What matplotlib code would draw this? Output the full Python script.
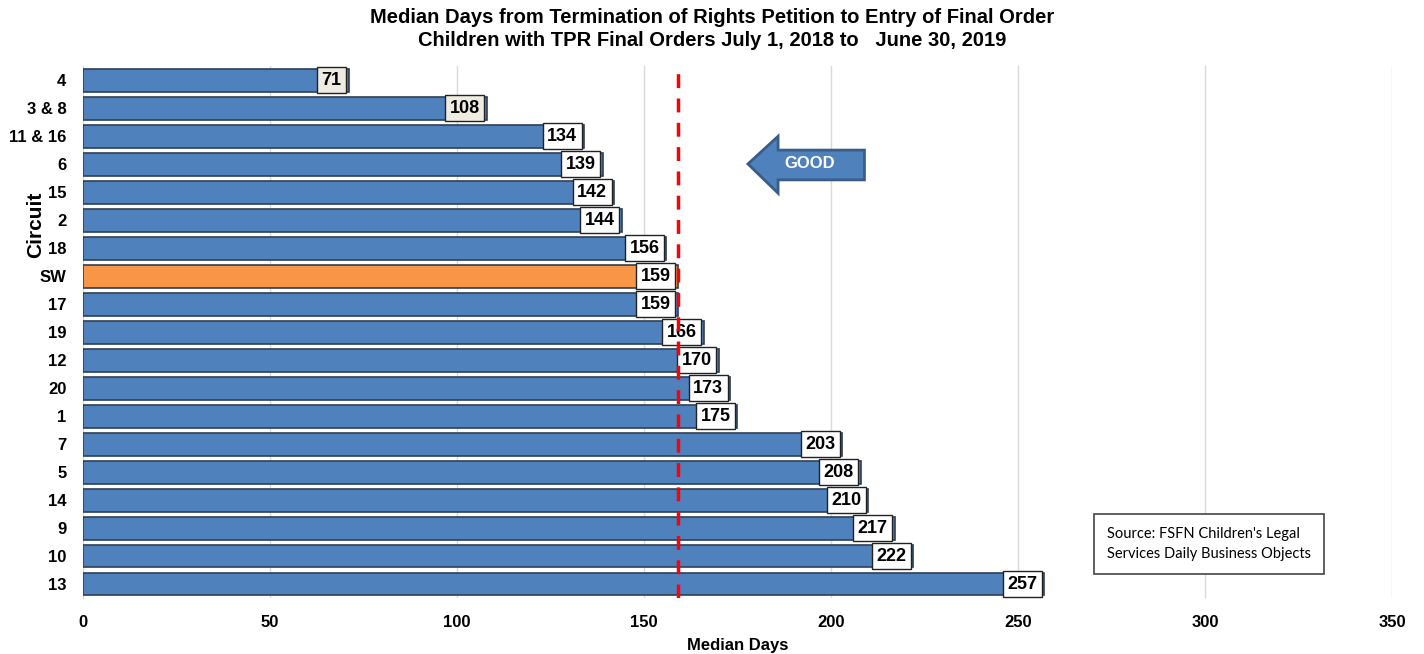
import matplotlib
matplotlib.use("Agg")
import matplotlib.pyplot as plt
from matplotlib.patches import Polygon

circuits = ["4", "3 & 8", "11 & 16", "6", "15", "2", "18", "SW", "17", "19",
            "12", "20", "1", "7", "5", "14", "9", "10", "13"]
median_days = [71, 108, 134, 139, 142, 144, 156, 159, 159, 166,
               170, 173, 175, 203, 208, 210, 217, 222, 257]
statewide = 159
x_ticks = [0, 50, 100, 150, 200, 250, 300, 350]

BLUE = "#4F81BD"
ORANGE = "#F79646"
EDGE = "#2F3F55"

plt.rcParams["font.family"] = ["Liberation Sans", "DejaVu Sans"]

fig = plt.figure(figsize=(14.24, 6.54), dpi=100)
ax = fig.add_axes([0.0583, 0.0856, 0.9192, 0.8134])

ypos = list(range(len(circuits)))
colors = [ORANGE if c == "SW" else BLUE for c in circuits]
ax.barh(ypos, median_days, height=0.82, color=colors, edgecolor=EDGE,
        linewidth=1.2, zorder=3)

for i, v in enumerate(median_days):
    face = "#EEECE1" if i < 2 else "white"
    ax.annotate(str(v), xy=(v, i), xytext=(-5, 0), textcoords="offset points",
                ha="right", va="center", fontsize=13, fontweight="bold",
                zorder=5,
                bbox=dict(boxstyle="square,pad=0.25", fc=face, ec="#222222",
                          lw=1.0))

ax.axvline(statewide, color="#FF0000", lw=2.5, ls=(0, (4, 3)), zorder=6)

ax.set_xlim(0, 350)
ax.set_ylim(len(circuits) - 0.5, -0.5)
ax.set_xticks(x_ticks)
ax.set_xticklabels([str(t) for t in x_ticks], fontsize=12, fontweight="bold")
ax.set_yticks(ypos)
ax.set_yticklabels(circuits, fontsize=12, fontweight="bold")
ax.tick_params(axis="y", length=0, pad=12)
ax.tick_params(axis="x", length=0, pad=12)
ax.grid(axis="x", color="#D9D9D9", lw=1, zorder=0)
for s in ["top", "right", "bottom"]:
    ax.spines[s].set_visible(False)
ax.spines["left"].set_color("#D9D9D9")

ax.set_xlabel("Median Days", fontsize=12, fontweight="bold", labelpad=6)
ax.set_ylabel("Circuit", fontsize=15, fontweight="bold")
ax.yaxis.set_label_coords(-0.029, 0.701)

fig.suptitle("Median Days from Termination of Rights Petition to Entry of Final Order\n"
             "Children with TPR Final Orders July 1, 2018 to   June 30, 2019",
             x=0.5, y=0.988, fontsize=14.5, fontweight="bold", linespacing=1.25)

# "GOOD" arrow pointing left, placed in axes coordinates
arrow_pts = [(0.508, 0.816), (0.531, 0.868), (0.531, 0.842),
             (0.597, 0.842), (0.597, 0.786), (0.531, 0.786),
             (0.531, 0.761)]
ax.add_patch(Polygon(arrow_pts, closed=True, transform=ax.transAxes,
                     fc=BLUE, ec="#385D8A", lw=2, zorder=7))
ax.text(0.555, 0.816, "GOOD", transform=ax.transAxes, ha="center",
        va="center", color="white", fontsize=12, fontweight="bold", zorder=8)

fig.text(0.7775, 0.168, "Source: FSFN Children's Legal\nServices Daily Business Objects",
         fontsize=10.5, family=["Lato", "DejaVu Sans"], va="center", ha="left",
         linespacing=1.5,
         bbox=dict(boxstyle="square,pad=0.9", fc="white", ec="#444444", lw=1.2))

fig.savefig("out.png", dpi=100)
